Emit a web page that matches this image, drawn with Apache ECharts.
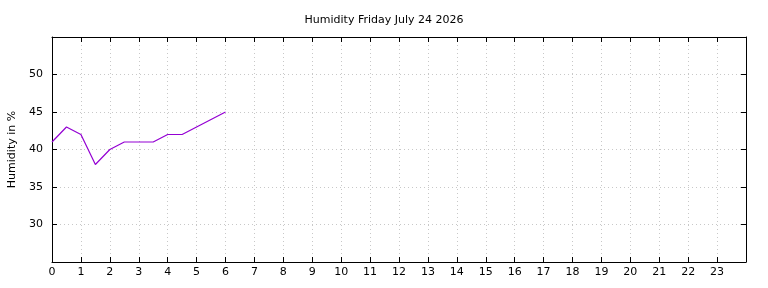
<!DOCTYPE html>
<html>
<head>
<meta charset="utf-8">
<script src="https://cdn.jsdelivr.net/npm/echarts@6/dist/echarts.min.js"></script>
<style>
  html, body { margin: 0; padding: 0; background: #fff; }
  #chart { width: 768px; height: 288px; }
</style>
</head>
<body>
<div id="chart"></div>
<script>
// hours of the day (half-hour readings)
var hours = [0, 0.5, 1, 1.5, 2, 2.5, 3, 3.5, 4, 4.5, 5, 5.5, 6];
var humidity = [41, 43, 42, 38, 40, 41, 41, 41, 42, 42, 43, 44, 45];

var chart = echarts.init(document.getElementById('chart'));

var font = 'DejaVu Sans';
var gridLine = { show: true, lineStyle: { color: '#c8c8c8', type: [1, 3], width: 1 } };

var option = {
  animation: false,
  textStyle: { fontFamily: font },
  title: {
    text: 'Humidity Friday July 24 2026',
    left: 'center',
    top: 10,
    textStyle: { fontFamily: font, fontSize: 11, fontWeight: 'normal', color: '#000' }
  },
  grid: { left: 52, right: 22, top: 37, bottom: 26, outerBoundsMode: 'none', containLabel: false },
  xAxis: [{
    type: 'value',
    min: 0, max: 24, interval: 1,
    axisLine: { show: true, lineStyle: { color: '#000', width: 1 } },
    axisTick: { show: true, inside: true, length: 5, lineStyle: { color: '#000' } },
    axisLabel: {
      color: '#000', fontSize: 11, margin: 5,
      formatter: function (v) { return v === 24 ? '' : v; }
    },
    splitLine: gridLine
  }, {
    type: 'value', position: 'top',
    min: 0, max: 24, interval: 1,
    axisLine: { show: true, onZero: false, lineStyle: { color: '#000', width: 1 } },
    axisTick: { show: true, inside: true, length: 5, lineStyle: { color: '#000' } },
    axisLabel: { show: false },
    splitLine: { show: false }
  }],
  yAxis: [{
    type: 'value',
    min: 25, max: 55, interval: 5,
    name: 'Humidity in %',
    nameLocation: 'middle',
    nameGap: 33,
    nameTextStyle: { color: '#000', fontSize: 11, fontFamily: font },
    axisLine: { show: true, lineStyle: { color: '#000', width: 1 } },
    axisTick: { show: true, inside: true, length: 5, lineStyle: { color: '#000' } },
    axisLabel: {
      color: '#000', fontSize: 11, margin: 9,
      formatter: function (v) { return (v === 25 || v === 55) ? '' : v; }
    },
    splitLine: gridLine
  }, {
    type: 'value', position: 'right',
    min: 25, max: 55, interval: 5,
    axisLine: { show: true, onZero: false, lineStyle: { color: '#000', width: 1 } },
    axisTick: { show: true, inside: true, length: 5, lineStyle: { color: '#000' } },
    axisLabel: { show: false },
    splitLine: { show: false }
  }],
  series: [{
    type: 'line',
    data: hours.map(function (h, i) { return [h, humidity[i]]; }),
    showSymbol: false,
    lineStyle: { color: '#9400d3', width: 1.2 },
    itemStyle: { color: '#9400d3' }
  }]
};

chart.setOption(option);
</script>
</body>
</html>
